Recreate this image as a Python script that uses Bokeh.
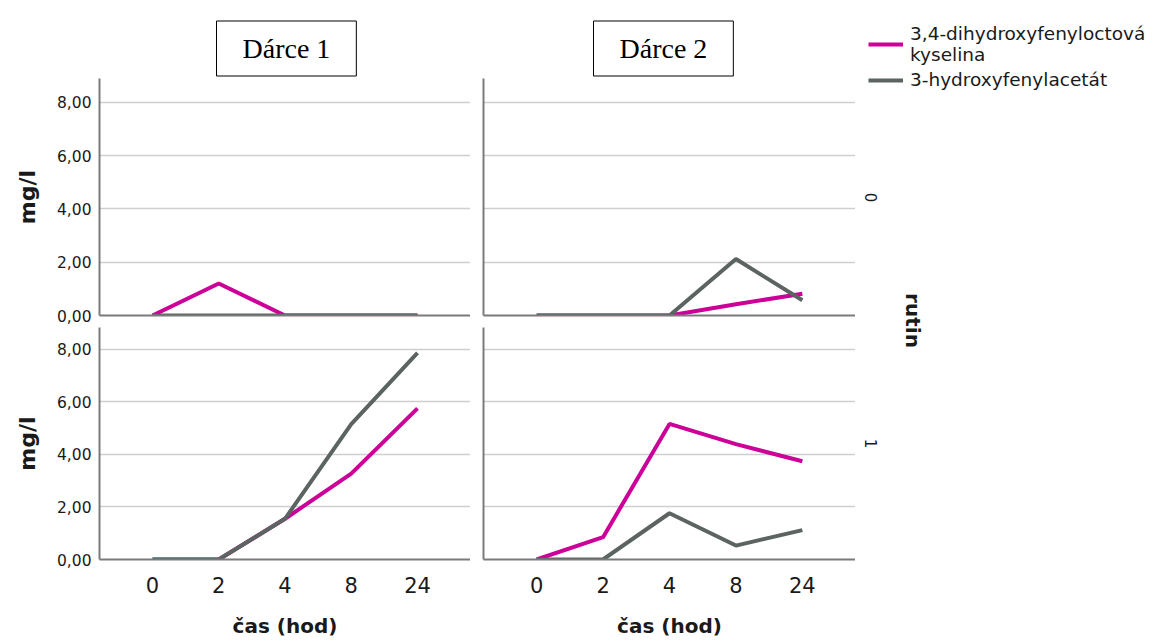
import math
from bokeh.plotting import figure
from bokeh.layouts import row, column
from bokeh.models import (FactorRange, Range1d, FixedTicker, Label, Legend,
                          LegendItem)
from bokeh.embed import file_html
from bokeh.resources import INLINE

# ---------------- data ----------------
times = ["0", "2", "4", "8", "24"]
donors = ["Dárce 1", "Dárce 2"]
rutin_levels = ["0", "1"]
series_names = ["3,4-dihydroxyfenyloctová\nkyselina", "3-hydroxyfenylacetát"]

dopac_d1_r0 = [0.0, 1.2, 0.0, 0.0, 0.0]
hpa_d1_r0 = [0.0, 0.0, 0.0, 0.0, 0.0]
dopac_d2_r0 = [0.0, 0.0, 0.0, 0.42, 0.82]
hpa_d2_r0 = [0.0, 0.0, 0.0, 2.12, 0.57]
dopac_d1_r1 = [0.0, 0.0, 1.55, 3.27, 5.75]
hpa_d1_r1 = [0.0, 0.0, 1.55, 5.15, 7.86]
dopac_d2_r1 = [0.0, 0.85, 5.16, 4.39, 3.74]
hpa_d2_r1 = [0.0, 0.0, 1.76, 0.53, 1.12]

y_ticks = [0, 2, 4, 6, 8]
y_tick_labels = ["0,00", "2,00", "4,00", "6,00", "8,00"]
x_label = "čas (hod)"
y_label = "mg/l"
facet_label = "rutin"

MAGENTA = "#cc0099"
GRAY = "#5b6461"
GRID = "#cfcfcf"
AXIS = "#7a7a7a"
TEXT = "#1a1a1a"
FONT = "DejaVu Sans"


def make_panel(dopac, hpa, col, rowi):
    left = col == 0
    top = rowi == 0
    frame_w = 371 if left else 372
    frame_h = 237 if top else 234
    y_max = 8.9 if top else 8.83
    mbl = 99 if left else 13
    mbt = 78 if top else 0
    mbb = 12 if top else 79
    p = figure(width=mbl + frame_w, height=mbt + frame_h + mbb,
               x_range=FactorRange(factors=times, range_padding=0.3,
                                   range_padding_units="absolute"),
               y_range=Range1d(0, y_max),
               output_backend="svg", toolbar_location=None,
               min_border_left=mbl, min_border_right=0,
               min_border_top=mbt, min_border_bottom=mbb)
    p.outline_line_color = None
    p.background_fill_color = "white"
    p.xgrid.visible = False
    p.ygrid.ticker = FixedTicker(ticks=y_ticks)
    p.ygrid.grid_line_color = GRID
    p.ygrid.grid_line_width = 1.5

    for ax in (p.xaxis[0], p.yaxis[0]):
        ax.axis_line_color = AXIS
        ax.axis_line_width = 2
        ax.major_tick_out = 0
        ax.major_tick_in = 0
        ax.minor_tick_line_color = None
        ax.major_label_text_color = TEXT
        ax.major_label_text_font = FONT
        ax.axis_label_text_font = FONT
        ax.axis_label_text_font_style = "bold"
        ax.axis_label_text_color = TEXT

    if left:
        p.yaxis.ticker = FixedTicker(ticks=y_ticks)
        p.yaxis.major_label_overrides = dict(zip(y_ticks, y_tick_labels))
        p.yaxis.major_label_text_font_size = "15.5px"
        p.yaxis.major_label_standoff = 8
        p.yaxis.axis_label = y_label
        p.yaxis.axis_label_text_font_size = "22px"
        p.yaxis.axis_label_standoff = 14
    else:
        p.yaxis.ticker = FixedTicker(ticks=[])

    if top:
        p.xaxis.ticker = FixedTicker(ticks=[])
        p.title.text = donors[col]
        p.title.align = "left"
        p.title.offset = 117 if left else 110
        p.title.text_font = "Liberation Serif"
        p.title.text_font_style = "normal"
        p.title.text_font_size = "28px"
        p.title.text_color = "black"
        p.title.border_line_color = "black"
        p.title.border_line_width = 1
        p.title.padding = dict(left=26, right=26, top=12, bottom=12)
        p.title.standoff = 5
    else:
        p.xaxis.major_label_text_font_size = "21px"
        p.xaxis.major_label_standoff = 17
        p.xaxis.axis_label = x_label
        p.xaxis.axis_label_text_font_size = "20px"
        p.xaxis.axis_label_standoff = 18

    p.line(times, dopac, color=MAGENTA, line_width=4)
    p.line(times, hpa, color=GRAY, line_width=4)
    return p


tl = make_panel(dopac_d1_r0, hpa_d1_r0, 0, 0)
tr = make_panel(dopac_d2_r0, hpa_d2_r0, 1, 0)
bl = make_panel(dopac_d1_r1, hpa_d1_r1, 0, 1)
br = make_panel(dopac_d2_r1, hpa_d2_r1, 1, 1)

SW, SH = 297, 640
side = figure(width=SW, height=SH, x_range=Range1d(0, SW), y_range=Range1d(0, SH),
              output_backend="svg", toolbar_location=None,
              x_axis_location=None, y_axis_location=None, min_border=0)
side.grid.visible = False
side.outline_line_color = None

side.add_layout(Label(x=15, y=SH - 197, text=rutin_levels[0], angle=-math.pi / 2,
                      text_align="center", text_baseline="middle",
                      text_font=FONT, text_font_size="15px", text_color=TEXT))
side.add_layout(Label(x=15, y=SH - 443, text=rutin_levels[1], angle=-math.pi / 2,
                      text_align="center", text_baseline="middle",
                      text_font=FONT, text_font_size="15px", text_color=TEXT))
side.add_layout(Label(x=57, y=SH - 320, text=facet_label, angle=-math.pi / 2,
                      text_align="center", text_baseline="middle",
                      text_font=FONT, text_font_size="20px", text_font_style="bold",
                      text_color=TEXT))

nan = float("nan")
r1 = side.line([nan, nan], [nan, nan], color=MAGENTA, line_width=4)
r2 = side.line([nan, nan], [nan, nan], color=GRAY, line_width=4)
legend = Legend(items=[LegendItem(label=series_names[0], renderers=[r1]),
                       LegendItem(label=series_names[1], renderers=[r2])],
                location=(13, SH - 90))
legend.border_line_color = None
legend.background_fill_alpha = 0
legend.padding = 0
legend.margin = 0
legend.spacing = 4
legend.glyph_width = 35
legend.glyph_height = 16
legend.label_standoff = 7
legend.label_text_font = FONT
legend.label_text_font_size = "18.5px"
legend.label_text_line_height = 0.65
legend.label_text_color = TEXT
side.add_layout(legend)

layout = row(column(row(tl, tr), row(bl, br)), side)
open("out.html", "w").write(file_html(layout, INLINE))
